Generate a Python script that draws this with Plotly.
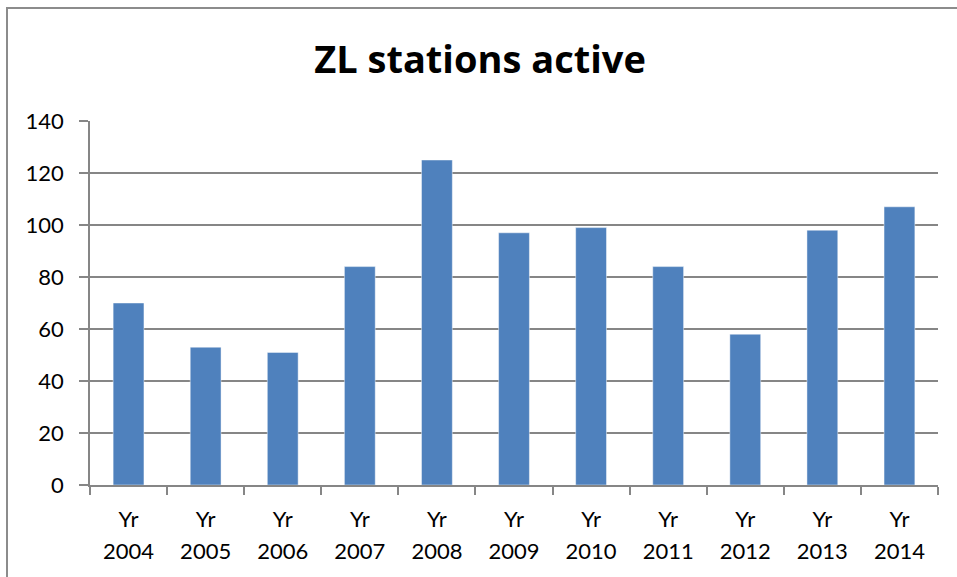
import plotly.graph_objects as go

years = ["2004", "2005", "2006", "2007", "2008", "2009", "2010", "2011", "2012", "2013", "2014"]
stations = [70, 53, 51, 84, 125, 97, 99, 84, 58, 98, 107]
y_ticks = [0, 20, 40, 60, 80, 100, 120, 140]

LBL = "<span style='font-size:22px'>{}</span>"
tick_labels = [LBL.format("Yr") + "<br>" + LBL.format(y) for y in years]

W, H = 957, 577
L, R, T, B = 90, 19, 121, 92
pw, ph = W - L - R, H - T - B

def px_x(x):
    return (x - L) / pw

def px_y(y):
    return (H - B - y) / ph

fig = go.Figure(go.Bar(
    x=tick_labels, y=stations,
    marker=dict(color="#4F81BD", line=dict(color="rgba(255,255,255,0.45)", width=1)),
    width=0.4,
))

fig.update_layout(
    width=W, height=H,
    margin=dict(l=L, r=R, t=T, b=B),
    paper_bgcolor="white", plot_bgcolor="white",
    showlegend=False,
    font=dict(family="Lato, Carlito, sans-serif", color="black", size=22),
    title=dict(text="<b>ZL stations active</b>", x=480 / W, xanchor="center",
               y=1 - 60 / H, yanchor="middle",
               font=dict(size=38, family="Open Sans, sans-serif", color="black")),
    xaxis=dict(type="category", tickson="boundaries", ticks="outside", ticklen=8,
               tickwidth=1.5, tickcolor="#868686", showline=True, linecolor="#868686",
               linewidth=1.5, showgrid=False, tickfont=dict(size=24.6),
               ticklabelstandoff=11),
    yaxis=dict(range=[0, 140], tickvals=y_ticks, ticks="outside", ticklen=9,
               tickwidth=1.5, tickcolor="#868686", showline=True, linecolor="#868686",
               linewidth=1.5, showgrid=True, gridcolor="#868686", gridwidth=1.5,
               zeroline=False, tickfont=dict(size=22), ticklabelstandoff=11),
    shapes=[dict(type="rect", xref="paper", yref="paper",
                 x0=px_x(7), x1=px_x(W + 20), y0=px_y(H + 20), y1=px_y(8),
                 line=dict(color="#8C8C8C", width=2), fillcolor="rgba(0,0,0,0)",
                 layer="below")],
)

fig.write_html("out.html", config={"displayModeBar": False},
               post_script="document.body.style.margin='0';document.body.style.overflow='hidden';")
